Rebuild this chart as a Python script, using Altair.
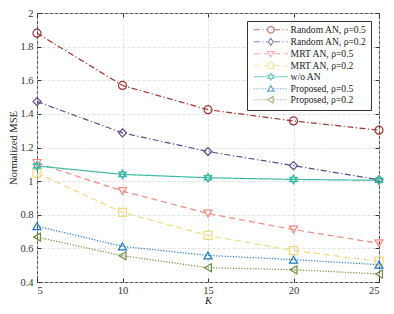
import altair as alt
import pandas as pd
import math

K = [5, 10, 15, 20, 25]
series_names = [
    "Random AN, ρ=0.5",
    "Random AN, ρ=0.2",
    "MRT AN, ρ=0.5",
    "MRT AN, ρ=0.2",
    "w/o AN",
    "Proposed, ρ=0.5",
    "Proposed, ρ=0.2",
]
random_05 = [1.880, 1.569, 1.425, 1.358, 1.303]
random_02 = [1.473, 1.287, 1.176, 1.092, 1.008]
mrt_05 = [1.108, 0.941, 0.807, 0.712, 0.630]
mrt_02 = [1.047, 0.814, 0.677, 0.587, 0.524]
wo_an = [1.090, 1.040, 1.020, 1.010, 1.005]
prop_05 = [0.732, 0.612, 0.558, 0.533, 0.503]
prop_02 = [0.667, 0.556, 0.485, 0.473, 0.448]
values = [random_05, random_02, mrt_05, mrt_02, wo_an, prop_05, prop_02]
y_ticks = [0.4, 0.6, 0.8, 1.0, 1.2, 1.4, 1.6, 1.8, 2.0]

colors = ["#A2312D", "#5C4A8E", "#F4897D", "#F2D97F", "#3DB9A7", "#1B78C3", "#6E8C3B"]
dashes = [[6, 2.5, 1.2, 2.5], [6, 2.5, 1.2, 2.5], [6, 4], [6, 4], [1, 0], [1.2, 1.6], [1.2, 1.6]]

HEX = "M0,-1.1L0.95,0.55L-0.95,0.55ZM0,1.1L0.95,-0.55L-0.95,-0.55Z"
shapes = ["circle", "diamond", "triangle-down", "square", HEX, "triangle-up", "triangle-left"]

rows = []
for name, vals in zip(series_names, values):
    for k, v in zip(K, vals):
        rows.append({"K": k, "mse": v, "series": name})
df = pd.DataFrame(rows)

# ---- legend symbols: line with marker, drawn as a custom SVG path (1 unit = 1 px) ----
MC = 15.0   # marker centre (px) relative to symbol centre
L0, L1 = -2.0, 32.0
MR = 3.3

def seg_path(x0, x1, pattern):
    out = []
    if pattern == [1, 0]:
        return [(x0, x1)]
    x = x0
    i = 0
    while x < x1:
        on = pattern[i % len(pattern)]
        off = pattern[(i + 1) % len(pattern)]
        e = min(x + on, x1)
        out.append((x, e))
        x = e + off
        i += 2
    return out

def f(v):
    return f"{v:.2f}"

def marker_path(kind, cx):
    r = MR
    if kind == "circle":
        pts = [(cx + r * math.cos(2 * math.pi * j / 16), r * math.sin(2 * math.pi * j / 16)) for j in range(16)]
        return "M" + "L".join(f"{f(x)},{f(y)}" for x, y in pts) + "Z"
    if kind == "diamond":
        return f"M{f(cx)},{f(-r*1.05)}L{f(cx+r*0.75)},0L{f(cx)},{f(r*1.05)}L{f(cx-r*0.75)},0Z"
    if kind == "square":
        s = r * 0.85
        return f"M{f(cx-s)},{f(-s)}L{f(cx+s)},{f(-s)}L{f(cx+s)},{f(s)}L{f(cx-s)},{f(s)}Z"
    if kind == "triangle-down":
        return f"M{f(cx-r)},{f(-r*0.7)}L{f(cx+r)},{f(-r*0.7)}L{f(cx)},{f(r*0.95)}Z"
    if kind == "triangle-up":
        return f"M{f(cx-r)},{f(r*0.7)}L{f(cx+r)},{f(r*0.7)}L{f(cx)},{f(-r*0.95)}Z"
    if kind == "triangle-left":
        return f"M{f(cx+r*0.7)},{f(-r)}L{f(cx+r*0.7)},{f(r)}L{f(cx-r*0.95)},0Z"
    a = r * 1.05
    p1 = [(0, -a), (a * 0.866, a * 0.5), (-a * 0.866, a * 0.5)]
    p2 = [(0, a), (a * 0.866, -a * 0.5), (-a * 0.866, -a * 0.5)]
    s = ""
    for p in (p1, p2):
        s += "M" + "L".join(f"{f(cx+x)},{f(y)}" for x, y in p) + "Z"
    return s

legend_paths = []
for kind, pat in zip(shapes, dashes):
    kname = kind if kind != HEX else "hex"
    segs = seg_path(L0, MC - MR, pat) + seg_path(MC + MR, L1, pat)
    p = "".join(f"M{f(a)},0L{f(b)},0" for a, b in segs)
    p += marker_path(kname, MC)
    legend_paths.append(p)

FONT = "Liberation Serif"

x_scale = alt.Scale(domain=[5, 25], nice=False)
y_scale = alt.Scale(domain=[0.4, 2.0], nice=False)

x_enc = alt.X("K:Q", scale=x_scale,
              axis=alt.Axis(values=K, title="K", titleFontStyle="italic", format="d",
                            offset=-4, labelPadding=3, titlePadding=0, tickSize=4,
                            labelOverlap=False))
y_enc = alt.Y("mse:Q", scale=y_scale,
              axis=alt.Axis(values=y_ticks, title="Normalized MSE", format="~g", offset=-4,
                            labelPadding=4, titlePadding=1, tickSize=4, labelOverlap=False))

lines = alt.Chart(df).mark_line(strokeWidth=1.2).encode(
    x=x_enc, y=y_enc,
    color=alt.Color("series:N", scale=alt.Scale(domain=series_names, range=colors), legend=None),
    strokeDash=alt.StrokeDash("series:N", scale=alt.Scale(domain=series_names, range=dashes), legend=None),
)
points = alt.Chart(df).mark_point(filled=False, strokeWidth=1.2, size=64, opacity=1).encode(
    x=alt.X("K:Q", scale=x_scale, axis=alt.Axis(orient="top", values=K, labels=False, title=None,
                                                 grid=False, offset=-4, tickSize=4)),
    y=alt.Y("mse:Q", scale=y_scale, axis=alt.Axis(orient="right", values=y_ticks, labels=False,
                                                   title=None, grid=False, offset=-4, tickSize=4)),
    color=alt.Color("series:N", scale=alt.Scale(domain=series_names, range=colors), legend=None),
    shape=alt.Shape("series:N", scale=alt.Scale(domain=series_names, range=shapes), legend=None),
)
leg = alt.Legend(title=None, orient="top-right", offset=8,
                 symbolSize=4, symbolStrokeWidth=1.1, symbolFillColor="transparent",
                 labelOffset=30, labelFont=FONT, labelFontSize=9.6,
                 labelColor="#222", rowPadding=0, padding=4,
                 fillColor="white", strokeColor="#333")
legend_layer = alt.Chart(df).transform_filter("datum.mse > 100").mark_point(filled=False).encode(
    x=alt.X("K:Q", scale=x_scale, axis=None),
    y=alt.Y("mse:Q", scale=y_scale, axis=None),
    color=alt.Color("series:N", scale=alt.Scale(domain=series_names, range=colors), legend=leg),
    shape=alt.Shape("series:N", scale=alt.Scale(domain=series_names, range=legend_paths), legend=leg),
)

chart = alt.layer(lines, points, legend_layer).resolve_scale(
    shape="independent", color="independent"
).resolve_axis(x="independent", y="independent").properties(
    width=378, height=298,
    autosize=alt.AutoSizeParams(type="fit", contains="padding"),
    padding={"left": 0, "top": 0, "right": 0, "bottom": 0},
).configure_view(stroke="#333", strokeWidth=1).configure_axis(
    labelFont=FONT, titleFont=FONT, labelFontSize=10.5, titleFontSize=10.5,
    labelColor="#333", titleColor="#222", titleFontWeight="normal",
    domain=False, tickColor="#333", gridColor="#d9d9d9", gridDash=[3, 2], gridWidth=0.8,
)

chart.save("out.html", embed_options={"renderer": "svg", "actions": False})
